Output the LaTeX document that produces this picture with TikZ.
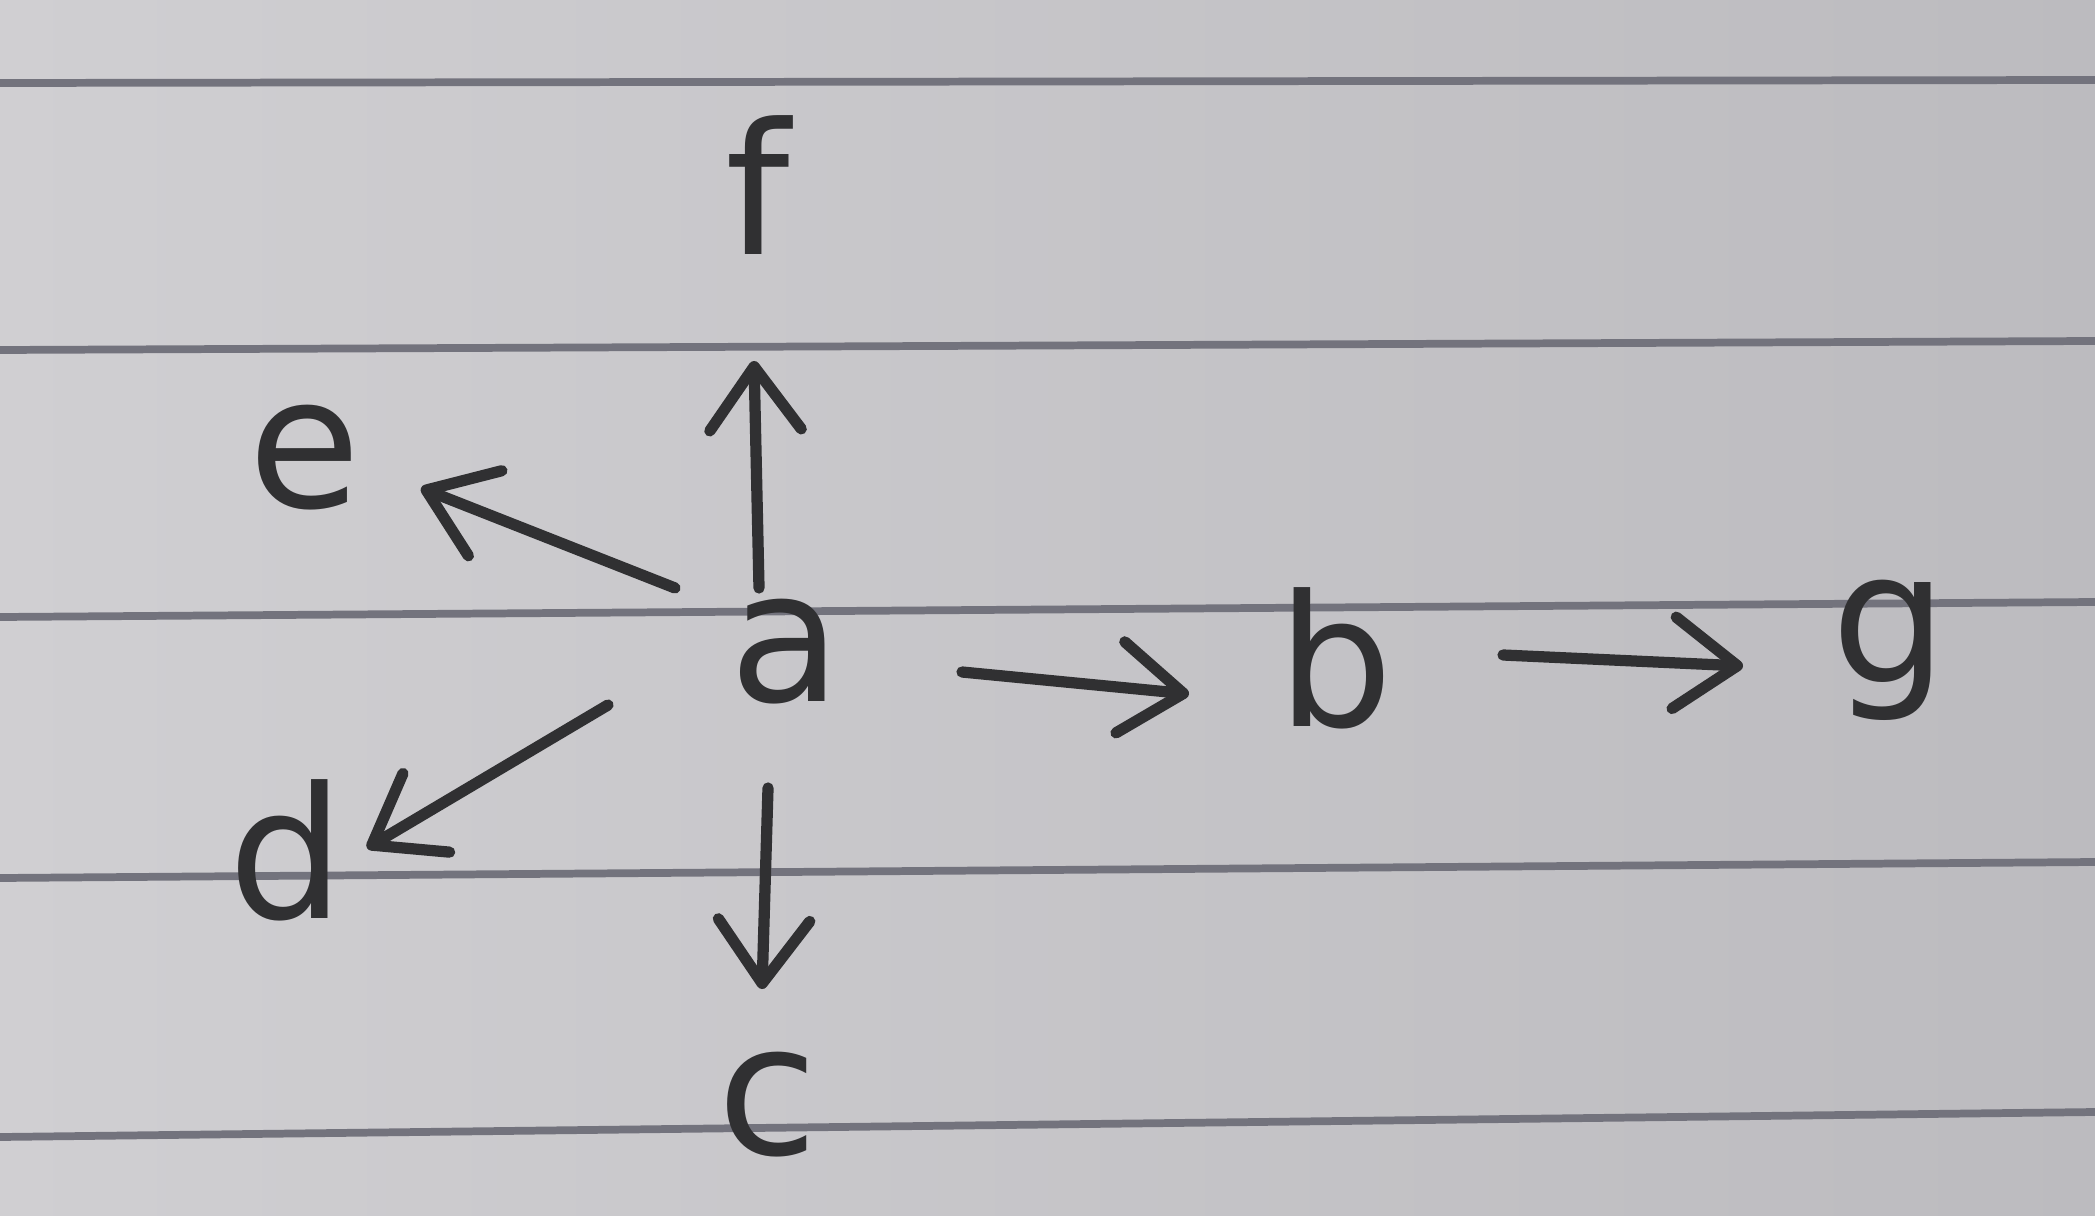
\documentclass[tikz,border=0pt]{standalone}
\usetikzlibrary{arrows.meta,calc}
\usepackage{fontspec}
\setmainfont{DejaVu Sans}
\definecolor{paperA}{RGB}{208,207,210}
\definecolor{paperB}{RGB}{188,187,191}
\definecolor{rule}{RGB}{115,115,125}
\definecolor{ink}{RGB}{48,48,50}
\begin{document}
\begin{tikzpicture}[x=0.01cm,y=-0.01cm,
  lbl/.style={text=ink,font=\fontsize{52}{60}\selectfont,inner sep=6pt},
  arr/.style={draw=ink,line width=3.2pt,line cap=round,line join=round,-{Straight Barb[round,length=18pt,width=26pt,line width=3.2pt]}},
  ruled/.style={draw=rule,line width=2.2pt}]
\shade[left color=paperA,right color=paperB] (0,0) rectangle (2095,1216);
\useasboundingbox (0,0) rectangle (2095,1216);
\draw[ruled] (0,83) -- (2095,80);
\draw[ruled] (0,350) -- (2095,341);
\draw[ruled] (0,617) -- (2095,602);
\draw[ruled] (0,878) -- (2095,862);
\draw[ruled] (0,1137) -- (2095,1112);
\node[lbl] (a) at (786,652) {a};
\node[lbl] (b) at (1336,658) {b};
\node[lbl] (g) at (1890,650) {g};
\node[lbl] (f) at (758,185) {f};
\node[lbl] (e) at (305,458) {e};
\node[lbl] (d) at (287,850) {d};
\node[lbl] (c) at (768,1105) {c};
\draw[arr] ($(a)+(176,20)$) -- ($(b)+(-147,36)$);
\draw[arr] ($(b)+(167,-3)$) -- ($(g)+(-147,16)$);
\draw[arr] ($(a)+(-27,-64)$) -- ($(f)+(-4,176)$);
\draw[arr] ($(a)+(-111,-64)$) -- ($(e)+(116,30)$);
\draw[arr] ($(a)+(-178,53)$) -- ($(d)+(80,-2)$);
\draw[arr] ($(a)+(-18,136)$) -- ($(c)+(-6,-116)$);
\end{tikzpicture}
\end{document}
